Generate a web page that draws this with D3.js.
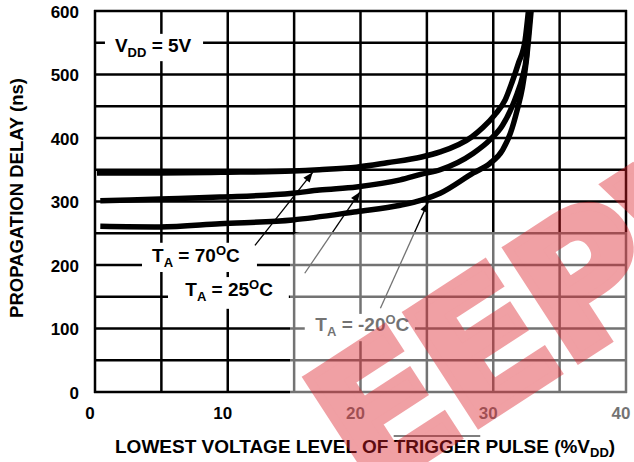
<!DOCTYPE html>
<html>
<head>
<meta charset="utf-8">
<script src="https://cdn.jsdelivr.net/npm/d3@7"></script>
<style>
  body{margin:0;background:#fff;}
  svg text{font-family:"Liberation Sans",Arial,sans-serif;font-weight:bold;fill:#000;}
</style>
</head>
<body>
<div id="chart"></div>
<script>
// graduations
var xTicks=[0,10,20,30,40];
var yTicks=[0,100,200,300,400,500,600];
var xGrid=d3.range(0,41,5);
var yGrid=d3.range(0,601,50);

// courbes (% VDD , ns)
var pct70=[0.15,4.9,9.8,14.9,16.9,19.7,22,24.6,26,28.4,29.2,30.1,30.9,31.4,31.9,32.4,32.65];
var ns70 =[345,345,346,348,350,354,361,370,378,402,416,436,460,487,518,554,600];
var pct25=[0.4,4.9,9.4,14.9,16.9,19.7,23,24.6,26,28.5,29.75,30.7,31.3,31.8,32.2,32.5,32.65,32.8];
var ns25 =[301,304,307,313,318,323,334,343,350,376,397,420,444,470,496,528,565,600];
var pctM20=[0.4,4.9,9.4,14.9,19.7,23,24.6,26,28.5,29.75,30.7,31.3,31.8,32.2,32.5,32.7,32.85];
var nsM20 =[261,260,265,271,284,294,302,313,345,360,381,408,444,480,523,565,600];

// etiquettes de temperature (position du texte et boite blanche, en unites du graphe)
var labels=[
  {t:"70", tx:4.3, ty:205, bx:[3.54,12.2], by:[189,235]},
  {t:"25", tx:6.8, ty:151, bx:[5.5,14.6], by:[131,181]},
  {t:"-20",tx:16.6,ty:96,  bx:[15.8,24.1],by:[80,123]}
];
// fleches : depart -> pointe
var arrows=[
  {from:[12.05,231],to:[16.4,346]},
  {from:[15.8,187], to:[19.96,315]},
  {from:[21.5,132], to:[25.1,299]}
];

var W=634,H=462;
var x=d3.scaleLinear().domain([0,40]).range([95,626]);
var y=d3.scaleLinear().domain([0,600]).range([392,11]);

var svg=d3.select("#chart").append("svg")
  .attr("width",W).attr("height",H);

// grille
var grid=svg.append("g").attr("stroke","#000").attr("stroke-width",2.5);
grid.selectAll(".vx").data(xGrid).enter().append("line")
  .attr("x1",d=>x(d)).attr("x2",d=>x(d))
  .attr("y1",y(0)+1).attr("y2",y(600)-1);
grid.selectAll(".hy").data(yGrid).enter().append("line")
  .attr("x1",x(0)-1).attr("x2",x(40)+1)
  .attr("y1",d=>y(d)).attr("y2",d=>y(d));

// boites blanches des etiquettes
svg.append("rect")
  .attr("x",x(0.75)).attr("y",y(564))
  .attr("width",x(8.14)-x(0.75)).attr("height",y(521)-y(564))
  .attr("fill","#fff");
svg.selectAll(".box").data(labels).enter().append("rect")
  .attr("x",d=>x(d.bx[0])).attr("y",d=>y(d.by[1]))
  .attr("width",d=>x(d.bx[1])-x(d.bx[0]))
  .attr("height",d=>y(d.by[0])-y(d.by[1]))
  .attr("fill","#fff");

// courbes
var line=d3.line().x(d=>x(d[0])).y(d=>y(d[1])).curve(d3.curveMonotoneX);
[[pct70,ns70],[pct25,ns25],[pctM20,nsM20]].forEach(function(c){
  svg.append("path")
    .datum(d3.zip(c[0],c[1]))
    .attr("d",line)
    .attr("fill","none")
    .attr("stroke","#000")
    .attr("stroke-width",5.5);
});

// fleches
svg.append("defs").append("marker")
  .attr("id","head").attr("viewBox","0 0 10 8")
  .attr("refX",10).attr("refY",4)
  .attr("markerWidth",11).attr("markerHeight",8)
  .attr("markerUnits","userSpaceOnUse")
  .attr("orient","auto")
  .append("path").attr("d","M0,0L10,4L0,8Z").attr("fill","#000");
svg.selectAll(".arrow").data(arrows).enter().append("line")
  .attr("x1",d=>x(d.from[0])).attr("y1",d=>y(d.from[1]))
  .attr("x2",d=>x(d.to[0])).attr("y2",d=>y(d.to[1]))
  .attr("stroke","#000").attr("stroke-width",1.3)
  .attr("marker-end","url(#head)");

// texte avec indice / exposant
function tempLabel(g,px,py,t){
  var tx=g.append("text").attr("x",px).attr("y",py).attr("font-size",19);
  tx.append("tspan").text("T");
  tx.append("tspan").attr("font-size",13).attr("dy",5).text("A");
  tx.append("tspan").attr("dy",-5).text(" = "+t);
  tx.append("tspan").attr("font-size",13).attr("dy",-7).text("O");
  tx.append("tspan").attr("dy",7).text("C");
}
labels.forEach(function(d){ tempLabel(svg,x(d.tx),y(d.ty),d.t); });

var vdd=svg.append("text").attr("x",x(1.5)).attr("y",y(535)).attr("font-size",19);
vdd.append("tspan").text("V");
vdd.append("tspan").attr("font-size",13).attr("dy",5).text("DD");
vdd.append("tspan").attr("dy",-5).text(" = 5V");

// etiquettes des axes
svg.selectAll(".yl").data(yTicks).enter().append("text")
  .attr("x",79).attr("y",d=>y(d)+1).attr("dy","0.35em")
  .attr("text-anchor","end").attr("font-size",17)
  .text(d=>d);
svg.selectAll(".xl").data(xTicks).enter().append("text")
  .attr("x",d=>x(d)-5).attr("y",419)
  .attr("text-anchor","middle").attr("font-size",17)
  .text(d=>d);

// titres
svg.append("text")
  .attr("transform","translate(23,198) rotate(-90)")
  .attr("text-anchor","middle").attr("font-size",18.5)
  .text("PROPAGATION DELAY (ns)");

var xt=svg.append("text").attr("x",115).attr("y",453).attr("font-size",19);
xt.append("tspan").text("LOWEST VOLTAGE LEVEL OF ");
var trig=xt.append("tspan").text("TRIGGER");
xt.append("tspan").text(" PULSE (%V");
xt.append("tspan").attr("font-size",13).attr("dy",4).text("DD");
xt.append("tspan").attr("dy",-4).text(")");

// barre au-dessus de TRIGGER
var tb=trig.node().getExtentOfChar(0), te=trig.node().getExtentOfChar(6);
svg.append("line")
  .attr("x1",tb.x).attr("x2",te.x+te.width)
  .attr("y1",436).attr("y2",436)
  .attr("stroke","#000").attr("stroke-width",1.2);

// filigrane
svg.append("rect")
  .attr("x",290).attr("y",232).attr("width",360).attr("height",190)
  .attr("rx",10).attr("fill","#fff").attr("opacity",0.45);
var wm=svg.append("g").attr("transform","translate(303,377) rotate(-33)");
wm.append("text")
  .attr("x",-13).attr("y",135)
  .attr("font-size",180)
  .attr("letter-spacing",-4)
  .style("font-family","DejaVu Sans")
  .style("fill","rgb(220,30,40)")
  .style("stroke","rgb(220,30,40)")
  .style("stroke-width",9)
  .style("stroke-linejoin","miter")
  .attr("opacity",0.42)
  .text("EEPW");
</script>
</body>
</html>
